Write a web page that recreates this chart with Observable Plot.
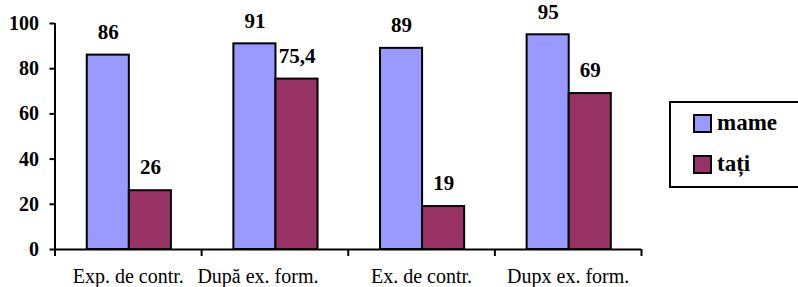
<!DOCTYPE html>
<html>
<head>
<meta charset="utf-8">
<script src="https://cdn.jsdelivr.net/npm/d3@7"></script>
<script src="https://cdn.jsdelivr.net/npm/@observablehq/plot@0.6"></script>
<style>
  html, body { margin: 0; padding: 0; background: #fff; }
  #wrap { position: relative; width: 798px; height: 287px; overflow: hidden; }
  #chart { position: absolute; left: 0; top: 0; }
  #chart svg text { font-family: "Times New Roman", "Liberation Serif", Tinos, "DejaVu Serif", serif !important; }
  #legend {
    position: absolute; left: 669px; top: 101px; width: 140px; height: 83px;
    border: 2px solid #000; background: #fff;
    font-family: "Times New Roman", "Liberation Serif", Tinos, "DejaVu Serif", serif; font-weight: bold; font-size: 23px;
  }
  .item { position: absolute; left: 22px; height: 20px; display: flex; align-items: center; }
  .sw { width: 15px; height: 15px; border: 2px solid #000; margin-right: 5px; }
</style>
</head>
<body>
<div id="wrap">
  <div id="chart"></div>
  <div id="legend"></div>
</div>
<script>
const categories = ["Exp. de contr.", "După ex. form.", "Ex. de contr.", "Dupx ex. form."];
const seriesNames = ["mame", "tați"];
const mame = [86, 91, 89, 95];
const tati = [26, 75.4, 19, 69];
const yTicks = [0, 20, 40, 60, 80, 100];
const colors = ["#9999FF", "#993366"];

const rows = categories.flatMap((c, i) => [
  {i, category: c, series: seriesNames[0], value: mame[i]},
  {i, category: c, series: seriesNames[1], value: tati[i]}
]);
const offset = {[seriesNames[0]]: 0.22, [seriesNames[1]]: 0.507};
const bw = 0.287;
const fmt = v => String(v).replace(".", ",");
const catRows = categories.map((c, i) => ({i, c}));

const chart = Plot.plot({
  width: 798,
  height: 287,
  marginLeft: 54.5,
  marginRight: 157,
  marginTop: 23,
  marginBottom: 38,
  style: {background: "transparent", color: "#000"},
  x: {type: "linear", domain: [0, categories.length], axis: null},
  y: {domain: [0, 100], axis: null},
  color: {domain: seriesNames, range: colors},
  marks: [
    Plot.rectY(rows, {
      x1: d => d.i + offset[d.series],
      x2: d => d.i + offset[d.series] + bw,
      y: "value",
      fill: "series",
      stroke: "#000",
      strokeWidth: 2
    }),
    Plot.text(rows, {
      x: d => d.i + offset[d.series] + bw / 2,
      y: "value",
      text: d => fmt(d.value),
      dy: -23,
      fontSize: 21,
      fontWeight: "bold",
      fill: "#000"
    }),
    Plot.ruleY([0], {stroke: "#000", strokeWidth: 2}),
    Plot.ruleX([0], {stroke: "#000", strokeWidth: 2}),
    Plot.axisY({
      ticks: yTicks,
      tickSize: 5,
      tickPadding: 11,
      strokeWidth: 2,
      fontSize: 20,
      fontWeight: "bold",
      label: null
    }),
    Plot.axisX({
      ticks: d3.range(categories.length + 1),
      tickFormat: () => "",
      tickSize: 7,
      strokeWidth: 2,
      label: null
    }),
    Plot.text(catRows.filter(d => d.i !== 1), {
      x: d => d.i + 0.5,
      y: 0,
      text: "c",
      dy: 27,
      fontSize: 20,
      fill: "#000"
    }),
    Plot.text(catRows.filter(d => d.i === 1), {
      x: d => d.i + 0.5,
      y: 0,
      text: "c",
      dy: 27,
      dx: -17,
      fontSize: 20,
      fill: "#000"
    })
  ]
});
document.getElementById("chart").appendChild(chart);

const legend = document.getElementById("legend");
seriesNames.forEach((s, k) => {
  const item = document.createElement("div");
  item.className = "item";
  item.style.top = (10 + k * 41) + "px";
  const sw = document.createElement("div");
  sw.className = "sw";
  sw.style.background = colors[k];
  const t = document.createElement("span");
  t.textContent = s;
  item.appendChild(sw);
  item.appendChild(t);
  legend.appendChild(item);
});
</script>
</body>
</html>
